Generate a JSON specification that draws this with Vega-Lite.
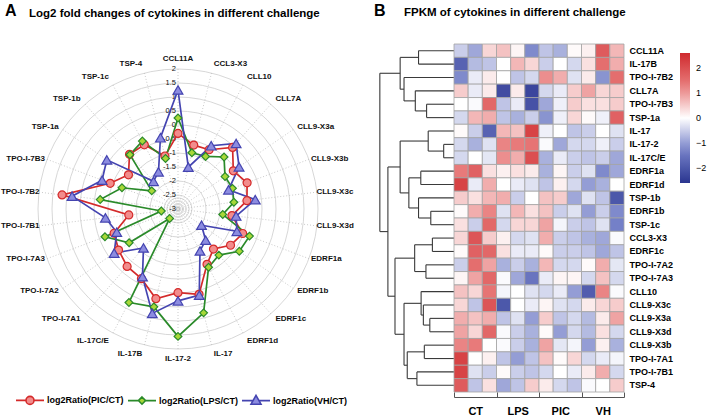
{
"$schema": "https://vega.github.io/schema/vega-lite/v6.json",
"background": "white",
"padding": {"left": 0, "top": 3, "right": 2, "bottom": 1},
"config": {"view": {"stroke": null}, "font": "Liberation Sans"},
"datasets": {
"levels": [{"lv":2},{"lv":1.5},{"lv":1},{"lv":0.5},{"lv":0},{"lv":-0.5},{"lv":-1},{"lv":-1.5},{"lv":-2},{"lv":-2.5},{"lv":-3},{"lv":-2.6},{"lv":-2.7},{"lv":-2.8},{"lv":-2.9}],
"radar": [
{"g":"CCL11A","i":0,"s":"log2Ratio(PIC/CT)","v":-0.3},{"g":"CCL11A","i":0,"s":"log2Ratio(LPS/CT)","v":0.25},{"g":"CCL11A","i":0,"s":"log2Ratio(VH/CT)","v":1.25},
{"g":"CCL3-X3","i":1,"s":"log2Ratio(PIC/CT)","v":-0.65},{"g":"CCL3-X3","i":1,"s":"log2Ratio(LPS/CT)","v":-0.93},{"g":"CCL3-X3","i":1,"s":"log2Ratio(VH/CT)","v":-1.46},
{"g":"CLL10","i":2,"s":"log2Ratio(PIC/CT)","v":-0.61},{"g":"CLL10","i":2,"s":"log2Ratio(LPS/CT)","v":-0.88},{"g":"CLL10","i":2,"s":"log2Ratio(VH/CT)","v":-0.45},
{"g":"CLL7A","i":3,"s":"log2Ratio(PIC/CT)","v":-0.06},{"g":"CLL7A","i":3,"s":"log2Ratio(LPS/CT)","v":-0.52},{"g":"CLL7A","i":3,"s":"log2Ratio(VH/CT)","v":0.13},
{"g":"CLL9-X3a","i":4,"s":"log2Ratio(PIC/CT)","v":-0.6},{"g":"CLL9-X3a","i":4,"s":"log2Ratio(LPS/CT)","v":-0.96},{"g":"CLL9-X3a","i":4,"s":"log2Ratio(VH/CT)","v":-0.35},
{"g":"CLL9-X3b","i":5,"s":"log2Ratio(PIC/CT)","v":-0.36},{"g":"CLL9-X3b","i":5,"s":"log2Ratio(LPS/CT)","v":-0.92},{"g":"CLL9-X3b","i":5,"s":"log2Ratio(VH/CT)","v":-1.07},
{"g":"CLL9-X3c","i":6,"s":"log2Ratio(PIC/CT)","v":-0.52},{"g":"CLL9-X3c","i":6,"s":"log2Ratio(LPS/CT)","v":-0.99},{"g":"CLL9-X3c","i":6,"s":"log2Ratio(VH/CT)","v":-0.22},
{"g":"CLL9-X3d","i":7,"s":"log2Ratio(PIC/CT)","v":-1.06},{"g":"CLL9-X3d","i":7,"s":"log2Ratio(LPS/CT)","v":-1.39},{"g":"CLL9-X3d","i":7,"s":"log2Ratio(VH/CT)","v":-0.91},
{"g":"EDRF1a","i":8,"s":"log2Ratio(PIC/CT)","v":-0.53},{"g":"EDRF1a","i":8,"s":"log2Ratio(LPS/CT)","v":-0.27},{"g":"EDRF1a","i":8,"s":"log2Ratio(VH/CT)","v":-0.75},
{"g":"EDRF1b","i":9,"s":"log2Ratio(PIC/CT)","v":-0.72},{"g":"EDRF1b","i":9,"s":"log2Ratio(LPS/CT)","v":-0.34},{"g":"EDRF1b","i":9,"s":"log2Ratio(VH/CT)","v":-1.98},
{"g":"EDRF1c","i":10,"s":"log2Ratio(PIC/CT)","v":-1.09},{"g":"EDRF1c","i":10,"s":"log2Ratio(LPS/CT)","v":-0.8},{"g":"EDRF1c","i":10,"s":"log2Ratio(VH/CT)","v":-1.51},
{"g":"EDRF1d","i":11,"s":"log2Ratio(PIC/CT)","v":-0.77},{"g":"EDRF1d","i":11,"s":"log2Ratio(LPS/CT)","v":-0.65},{"g":"EDRF1d","i":11,"s":"log2Ratio(VH/CT)","v":-1.31},
{"g":"IL-17","i":12,"s":"log2Ratio(PIC/CT)","v":0.14},{"g":"IL-17","i":12,"s":"log2Ratio(LPS/CT)","v":0.82},{"g":"IL-17","i":12,"s":"log2Ratio(VH/CT)","v":0.17},
{"g":"IL-17-2","i":13,"s":"log2Ratio(PIC/CT)","v":-0.01},{"g":"IL-17-2","i":13,"s":"log2Ratio(LPS/CT)","v":1.55},{"g":"IL-17-2","i":13,"s":"log2Ratio(VH/CT)","v":0.28},
{"g":"IL-17B","i":14,"s":"log2Ratio(PIC/CT)","v":0.3},{"g":"IL-17B","i":14,"s":"log2Ratio(LPS/CT)","v":0.6},{"g":"IL-17B","i":14,"s":"log2Ratio(VH/CT)","v":0.84},
{"g":"IL-17C/E","i":15,"s":"log2Ratio(PIC/CT)","v":-0.19},{"g":"IL-17C/E","i":15,"s":"log2Ratio(LPS/CT)","v":0.77},{"g":"IL-17C/E","i":15,"s":"log2Ratio(VH/CT)","v":-0.27},
{"g":"TPO-I-7A1","i":16,"s":"log2Ratio(PIC/CT)","v":-0.26},{"g":"TPO-I-7A1","i":16,"s":"log2Ratio(LPS/CT)","v":-2.55},{"g":"TPO-I-7A1","i":16,"s":"log2Ratio(VH/CT)","v":-1.14},
{"g":"TPO-I-7A2","i":17,"s":"log2Ratio(PIC/CT)","v":-0.42},{"g":"TPO-I-7A2","i":17,"s":"log2Ratio(LPS/CT)","v":-0.88},{"g":"TPO-I-7A2","i":17,"s":"log2Ratio(VH/CT)","v":-0.23},
{"g":"TPO-I-7A3","i":18,"s":"log2Ratio(PIC/CT)","v":-0.56},{"g":"TPO-I-7A3","i":18,"s":"log2Ratio(LPS/CT)","v":-0.21},{"g":"TPO-I-7A3","i":18,"s":"log2Ratio(VH/CT)","v":-0.66},
{"g":"TPO-I-7B1","i":19,"s":"log2Ratio(PIC/CT)","v":-1.23},{"g":"TPO-I-7B1","i":19,"s":"log2Ratio(LPS/CT)","v":-2.4},{"g":"TPO-I-7B1","i":19,"s":"log2Ratio(VH/CT)","v":-0.39},
{"g":"TPO-I-7B2","i":20,"s":"log2Ratio(PIC/CT)","v":1.17},{"g":"TPO-I-7B2","i":20,"s":"log2Ratio(LPS/CT)","v":-0.2},{"g":"TPO-I-7B2","i":20,"s":"log2Ratio(VH/CT)","v":0.81},
{"g":"TPO-I-7B3","i":21,"s":"log2Ratio(PIC/CT)","v":-0.41},{"g":"TPO-I-7B3","i":21,"s":"log2Ratio(LPS/CT)","v":-0.86},{"g":"TPO-I-7B3","i":21,"s":"log2Ratio(VH/CT)","v":-0.1},
{"g":"TSP-1a","i":22,"s":"log2Ratio(PIC/CT)","v":-0.85},{"g":"TSP-1a","i":22,"s":"log2Ratio(LPS/CT)","v":-1.86},{"g":"TSP-1a","i":22,"s":"log2Ratio(VH/CT)","v":0.09},
{"g":"TSP-1b","i":23,"s":"log2Ratio(PIC/CT)","v":-0.39},{"g":"TSP-1b","i":23,"s":"log2Ratio(LPS/CT)","v":-0.41},{"g":"TSP-1b","i":23,"s":"log2Ratio(VH/CT)","v":-1.68},
{"g":"TSP-1c","i":24,"s":"log2Ratio(PIC/CT)","v":-0.41},{"g":"TSP-1c","i":24,"s":"log2Ratio(LPS/CT)","v":-0.26},{"g":"TSP-1c","i":24,"s":"log2Ratio(VH/CT)","v":-1.5},
{"g":"TSP-4","i":25,"s":"log2Ratio(PIC/CT)","v":-1.05},{"g":"TSP-4","i":25,"s":"log2Ratio(LPS/CT)","v":-1.14},{"g":"TSP-4","i":25,"s":"log2Ratio(VH/CT)","v":-0.38}
],
"dendro": [
{"a":110,"b":110,"y1":0,"y2":1},{"a":0,"b":110,"y1":0,"y2":0},{"a":0,"b":110,"y1":1,"y2":1},
{"a":85,"b":85,"y1":4,"y2":5},{"a":0,"b":85,"y1":4,"y2":4},{"a":0,"b":85,"y1":5,"y2":5},
{"a":120,"b":120,"y1":3,"y2":4.5},{"a":0,"b":120,"y1":3,"y2":3},{"a":85,"b":120,"y1":4.5,"y2":4.5},
{"a":155,"b":155,"y1":2,"y2":3.75},{"a":0,"b":155,"y1":2,"y2":2},{"a":120,"b":155,"y1":3.75,"y2":3.75},
{"a":167,"b":167,"y1":0.5,"y2":2.875},{"a":110,"b":167,"y1":0.5,"y2":0.5},{"a":155,"b":167,"y1":2.875,"y2":2.875},
{"a":32,"b":32,"y1":7,"y2":8},{"a":0,"b":32,"y1":7,"y2":7},{"a":0,"b":32,"y1":8,"y2":8},
{"a":80,"b":80,"y1":6,"y2":7.5},{"a":0,"b":80,"y1":6,"y2":6},{"a":32,"b":80,"y1":7.5,"y2":7.5},
{"a":103,"b":103,"y1":9,"y2":10},{"a":0,"b":103,"y1":9,"y2":9},{"a":0,"b":103,"y1":10,"y2":10},
{"a":72,"b":72,"y1":12,"y2":13},{"a":0,"b":72,"y1":12,"y2":12},{"a":0,"b":72,"y1":13,"y2":13},
{"a":110,"b":110,"y1":11,"y2":12.5},{"a":0,"b":110,"y1":11,"y2":11},{"a":72,"b":110,"y1":12.5,"y2":12.5},
{"a":140,"b":140,"y1":9.5,"y2":11.75},{"a":103,"b":140,"y1":9.5,"y2":9.5},{"a":110,"b":140,"y1":11.75,"y2":11.75},
{"a":167,"b":167,"y1":6.75,"y2":10.625},{"a":80,"b":167,"y1":6.75,"y2":6.75},{"a":140,"b":167,"y1":10.625,"y2":10.625},
{"a":67,"b":67,"y1":14,"y2":15},{"a":0,"b":67,"y1":14,"y2":14},{"a":0,"b":67,"y1":15,"y2":15},
{"a":87,"b":87,"y1":16,"y2":17},{"a":0,"b":87,"y1":16,"y2":16},{"a":0,"b":87,"y1":17,"y2":17},
{"a":122,"b":122,"y1":14.5,"y2":16.5},{"a":67,"b":122,"y1":14.5,"y2":14.5},{"a":87,"b":122,"y1":16.5,"y2":16.5},
{"a":75,"b":75,"y1":20,"y2":21},{"a":0,"b":75,"y1":20,"y2":20},{"a":0,"b":75,"y1":21,"y2":21},
{"a":95,"b":95,"y1":19,"y2":20.5},{"a":0,"b":95,"y1":19,"y2":19},{"a":75,"b":95,"y1":20.5,"y2":20.5},
{"a":102,"b":102,"y1":18,"y2":19.75},{"a":0,"b":102,"y1":18,"y2":18},{"a":95,"b":102,"y1":19.75,"y2":19.75},
{"a":92,"b":92,"y1":22,"y2":23},{"a":0,"b":92,"y1":22,"y2":22},{"a":0,"b":92,"y1":23,"y2":23},
{"a":115,"b":115,"y1":24,"y2":25},{"a":0,"b":115,"y1":24,"y2":24},{"a":0,"b":115,"y1":25,"y2":25},
{"a":145,"b":145,"y1":22.5,"y2":24.5},{"a":92,"b":145,"y1":22.5,"y2":22.5},{"a":115,"b":145,"y1":24.5,"y2":24.5},
{"a":155,"b":155,"y1":18.875,"y2":23.5},{"a":102,"b":155,"y1":18.875,"y2":18.875},{"a":145,"b":155,"y1":23.5,"y2":23.5},
{"a":183,"b":183,"y1":15.5,"y2":21.1875},{"a":122,"b":183,"y1":15.5,"y2":15.5},{"a":155,"b":183,"y1":21.1875,"y2":21.1875},
{"a":205,"b":205,"y1":8.6875,"y2":18.34375},{"a":167,"b":205,"y1":8.6875,"y2":8.6875},{"a":183,"b":205,"y1":18.34375,"y2":18.34375},
{"a":230,"b":230,"y1":1.6875,"y2":13.515625},{"a":167,"b":230,"y1":1.6875,"y2":1.6875},{"a":205,"b":230,"y1":13.515625,"y2":13.515625}
],
"heat": [
{"g":"CCL11A","t":"CT","r":1,"v":-0.5},{"g":"CCL11A","t":"CT","r":2,"v":-0.9},{"g":"CCL11A","t":"CT","r":3,"v":0.4},{"g":"CCL11A","t":"LPS","r":1,"v":0.6},{"g":"CCL11A","t":"LPS","r":2,"v":0.1},{"g":"CCL11A","t":"LPS","r":3,"v":-1.2},{"g":"CCL11A","t":"PIC","r":1,"v":-0.6},{"g":"CCL11A","t":"PIC","r":2,"v":-0.8},{"g":"CCL11A","t":"PIC","r":3,"v":0.05},{"g":"CCL11A","t":"VH","r":1,"v":0.15},{"g":"CCL11A","t":"VH","r":2,"v":1.8},{"g":"CCL11A","t":"VH","r":3,"v":0.7},
{"g":"IL-17B","t":"CT","r":1,"v":-1.8},{"g":"IL-17B","t":"CT","r":2,"v":-0.7},{"g":"IL-17B","t":"CT","r":3,"v":-0.6},{"g":"IL-17B","t":"LPS","r":1,"v":0},{"g":"IL-17B","t":"LPS","r":2,"v":0.7},{"g":"IL-17B","t":"LPS","r":3,"v":0.4},{"g":"IL-17B","t":"PIC","r":1,"v":-0.5},{"g":"IL-17B","t":"PIC","r":2,"v":0},{"g":"IL-17B","t":"PIC","r":3,"v":-0.4},{"g":"IL-17B","t":"VH","r":1,"v":0.3},{"g":"IL-17B","t":"VH","r":2,"v":1.5},{"g":"IL-17B","t":"VH","r":3,"v":0.8},
{"g":"TPO-I-7B2","t":"CT","r":1,"v":-1.2},{"g":"TPO-I-7B2","t":"CT","r":2,"v":-0.2},{"g":"TPO-I-7B2","t":"CT","r":3,"v":0.2},{"g":"TPO-I-7B2","t":"LPS","r":1,"v":0},{"g":"TPO-I-7B2","t":"LPS","r":2,"v":-0.6},{"g":"TPO-I-7B2","t":"LPS","r":3,"v":-0.4},{"g":"TPO-I-7B2","t":"PIC","r":1,"v":1.1},{"g":"TPO-I-7B2","t":"PIC","r":2,"v":0.8},{"g":"TPO-I-7B2","t":"PIC","r":3,"v":-0.3},{"g":"TPO-I-7B2","t":"VH","r":1,"v":0.2},{"g":"TPO-I-7B2","t":"VH","r":2,"v":-1.1},{"g":"TPO-I-7B2","t":"VH","r":3,"v":1.5},
{"g":"CLL7A","t":"CT","r":1,"v":0.5},{"g":"CLL7A","t":"CT","r":2,"v":-0.2},{"g":"CLL7A","t":"CT","r":3,"v":0.2},{"g":"CLL7A","t":"LPS","r":1,"v":-2.2},{"g":"CLL7A","t":"LPS","r":2,"v":0.2},{"g":"CLL7A","t":"LPS","r":3,"v":-2.3},{"g":"CLL7A","t":"PIC","r":1,"v":-0.4},{"g":"CLL7A","t":"PIC","r":2,"v":-0.2},{"g":"CLL7A","t":"PIC","r":3,"v":0.5},{"g":"CLL7A","t":"VH","r":1,"v":0.9},{"g":"CLL7A","t":"VH","r":2,"v":0.4},{"g":"CLL7A","t":"VH","r":3,"v":0.5},
{"g":"TPO-I-7B3","t":"CT","r":1,"v":0},{"g":"TPO-I-7B3","t":"CT","r":2,"v":-0.05},{"g":"TPO-I-7B3","t":"CT","r":3,"v":1.6},{"g":"TPO-I-7B3","t":"LPS","r":1,"v":-0.6},{"g":"TPO-I-7B3","t":"LPS","r":2,"v":-0.2},{"g":"TPO-I-7B3","t":"LPS","r":3,"v":-2.1},{"g":"TPO-I-7B3","t":"PIC","r":1,"v":-0.9},{"g":"TPO-I-7B3","t":"PIC","r":2,"v":-0.15},{"g":"TPO-I-7B3","t":"PIC","r":3,"v":0.5},{"g":"TPO-I-7B3","t":"VH","r":1,"v":0.3},{"g":"TPO-I-7B3","t":"VH","r":2,"v":0.3},{"g":"TPO-I-7B3","t":"VH","r":3,"v":0.5},
{"g":"TSP-1a","t":"CT","r":1,"v":-0.4},{"g":"TSP-1a","t":"CT","r":2,"v":0.7},{"g":"TSP-1a","t":"CT","r":3,"v":0.8},{"g":"TSP-1a","t":"LPS","r":1,"v":-0.6},{"g":"TSP-1a","t":"LPS","r":2,"v":-0.8},{"g":"TSP-1a","t":"LPS","r":3,"v":-0.5},{"g":"TSP-1a","t":"PIC","r":1,"v":-1.1},{"g":"TSP-1a","t":"PIC","r":2,"v":-0.15},{"g":"TSP-1a","t":"PIC","r":3,"v":0.4},{"g":"TSP-1a","t":"VH","r":1,"v":0.05},{"g":"TSP-1a","t":"VH","r":2,"v":-0.15},{"g":"TSP-1a","t":"VH","r":3,"v":1.7},
{"g":"IL-17","t":"CT","r":1,"v":0.05},{"g":"IL-17","t":"CT","r":2,"v":-0.5},{"g":"IL-17","t":"CT","r":3,"v":-1.8},{"g":"IL-17","t":"LPS","r":1,"v":0.7},{"g":"IL-17","t":"LPS","r":2,"v":0.6},{"g":"IL-17","t":"LPS","r":3,"v":2.2},{"g":"IL-17","t":"PIC","r":1,"v":-0.15},{"g":"IL-17","t":"PIC","r":2,"v":0},{"g":"IL-17","t":"PIC","r":3,"v":-0.6},{"g":"IL-17","t":"VH","r":1,"v":-0.5},{"g":"IL-17","t":"VH","r":2,"v":0},{"g":"IL-17","t":"VH","r":3,"v":-0.3},
{"g":"IL-17-2","t":"CT","r":1,"v":-0.4},{"g":"IL-17-2","t":"CT","r":2,"v":-0.8},{"g":"IL-17-2","t":"CT","r":3,"v":-0.3},{"g":"IL-17-2","t":"LPS","r":1,"v":1.2},{"g":"IL-17-2","t":"LPS","r":2,"v":1.3},{"g":"IL-17-2","t":"LPS","r":3,"v":1.4},{"g":"IL-17-2","t":"PIC","r":1,"v":-0.05},{"g":"IL-17-2","t":"PIC","r":2,"v":-0.9},{"g":"IL-17-2","t":"PIC","r":3,"v":-0.4},{"g":"IL-17-2","t":"VH","r":1,"v":-0.4},{"g":"IL-17-2","t":"VH","r":2,"v":-0.15},{"g":"IL-17-2","t":"VH","r":3,"v":-0.5},
{"g":"IL-17C/E","t":"CT","r":1,"v":-0.4},{"g":"IL-17C/E","t":"CT","r":2,"v":0},{"g":"IL-17C/E","t":"CT","r":3,"v":-0.25},{"g":"IL-17C/E","t":"LPS","r":1,"v":1.1},{"g":"IL-17C/E","t":"LPS","r":2,"v":0.8},{"g":"IL-17C/E","t":"LPS","r":3,"v":2.0},{"g":"IL-17C/E","t":"PIC","r":1,"v":-0.8},{"g":"IL-17C/E","t":"PIC","r":2,"v":-0.2},{"g":"IL-17C/E","t":"PIC","r":3,"v":-0.5},{"g":"IL-17C/E","t":"VH","r":1,"v":-0.6},{"g":"IL-17C/E","t":"VH","r":2,"v":-0.5},{"g":"IL-17C/E","t":"VH","r":3,"v":-0.9},
{"g":"EDRF1a","t":"CT","r":1,"v":1.3},{"g":"EDRF1a","t":"CT","r":2,"v":1.7},{"g":"EDRF1a","t":"CT","r":3,"v":0.3},{"g":"EDRF1a","t":"LPS","r":1,"v":0.15},{"g":"EDRF1a","t":"LPS","r":2,"v":0.3},{"g":"EDRF1a","t":"LPS","r":3,"v":0.2},{"g":"EDRF1a","t":"PIC","r":1,"v":-0.8},{"g":"EDRF1a","t":"PIC","r":2,"v":0.1},{"g":"EDRF1a","t":"PIC","r":3,"v":-0.5},{"g":"EDRF1a","t":"VH","r":1,"v":-0.3},{"g":"EDRF1a","t":"VH","r":2,"v":-1.2},{"g":"EDRF1a","t":"VH","r":3,"v":-0.9},
{"g":"EDRF1d","t":"CT","r":1,"v":2.2},{"g":"EDRF1d","t":"CT","r":2,"v":-0.2},{"g":"EDRF1d","t":"CT","r":3,"v":0.8},{"g":"EDRF1d","t":"LPS","r":1,"v":0},{"g":"EDRF1d","t":"LPS","r":2,"v":-0.2},{"g":"EDRF1d","t":"LPS","r":3,"v":-0.3},{"g":"EDRF1d","t":"PIC","r":1,"v":-0.6},{"g":"EDRF1d","t":"PIC","r":2,"v":0.15},{"g":"EDRF1d","t":"PIC","r":3,"v":-0.4},{"g":"EDRF1d","t":"VH","r":1,"v":-1.0},{"g":"EDRF1d","t":"VH","r":2,"v":-0.8},{"g":"EDRF1d","t":"VH","r":3,"v":0},
{"g":"TSP-1b","t":"CT","r":1,"v":0.5},{"g":"TSP-1b","t":"CT","r":2,"v":0.3},{"g":"TSP-1b","t":"CT","r":3,"v":0.7},{"g":"TSP-1b","t":"LPS","r":1,"v":0.8},{"g":"TSP-1b","t":"LPS","r":2,"v":-0.5},{"g":"TSP-1b","t":"LPS","r":3,"v":0},{"g":"TSP-1b","t":"PIC","r":1,"v":0.6},{"g":"TSP-1b","t":"PIC","r":2,"v":0.5},{"g":"TSP-1b","t":"PIC","r":3,"v":-0.9},{"g":"TSP-1b","t":"VH","r":1,"v":-0.3},{"g":"TSP-1b","t":"VH","r":2,"v":-0.6},{"g":"TSP-1b","t":"VH","r":3,"v":-2.0},
{"g":"EDRF1b","t":"CT","r":1,"v":0.05},{"g":"EDRF1b","t":"CT","r":2,"v":0.8},{"g":"EDRF1b","t":"CT","r":3,"v":1.2},{"g":"EDRF1b","t":"LPS","r":1,"v":-0.3},{"g":"EDRF1b","t":"LPS","r":2,"v":0.7},{"g":"EDRF1b","t":"LPS","r":3,"v":0.3},{"g":"EDRF1b","t":"PIC","r":1,"v":0.6},{"g":"EDRF1b","t":"PIC","r":2,"v":-0.5},{"g":"EDRF1b","t":"PIC","r":3,"v":-0.3},{"g":"EDRF1b","t":"VH","r":1,"v":-1.0},{"g":"EDRF1b","t":"VH","r":2,"v":-0.5},{"g":"EDRF1b","t":"VH","r":3,"v":-1.2},
{"g":"TSP-1c","t":"CT","r":1,"v":0.3},{"g":"TSP-1c","t":"CT","r":2,"v":-0.5},{"g":"TSP-1c","t":"CT","r":3,"v":1.6},{"g":"TSP-1c","t":"LPS","r":1,"v":-0.4},{"g":"TSP-1c","t":"LPS","r":2,"v":0.4},{"g":"TSP-1c","t":"LPS","r":3,"v":0.4},{"g":"TSP-1c","t":"PIC","r":1,"v":0.9},{"g":"TSP-1c","t":"PIC","r":2,"v":-0.1},{"g":"TSP-1c","t":"PIC","r":3,"v":-0.5},{"g":"TSP-1c","t":"VH","r":1,"v":-0.6},{"g":"TSP-1c","t":"VH","r":2,"v":-0.3},{"g":"TSP-1c","t":"VH","r":3,"v":-1.3},
{"g":"CCL3-X3","t":"CT","r":1,"v":0.4},{"g":"CCL3-X3","t":"CT","r":2,"v":1.9},{"g":"CCL3-X3","t":"CT","r":3,"v":0.5},{"g":"CCL3-X3","t":"LPS","r":1,"v":0.15},{"g":"CCL3-X3","t":"LPS","r":2,"v":-0.4},{"g":"CCL3-X3","t":"LPS","r":3,"v":-0.3},{"g":"CCL3-X3","t":"PIC","r":1,"v":0.8},{"g":"CCL3-X3","t":"PIC","r":2,"v":-0.5},{"g":"CCL3-X3","t":"PIC","r":3,"v":-0.6},{"g":"CCL3-X3","t":"VH","r":1,"v":-0.8},{"g":"CCL3-X3","t":"VH","r":2,"v":-0.9},{"g":"CCL3-X3","t":"VH","r":3,"v":-0.05},
{"g":"EDRF1c","t":"CT","r":1,"v":0.05},{"g":"EDRF1c","t":"CT","r":2,"v":1.7},{"g":"EDRF1c","t":"CT","r":3,"v":1.6},{"g":"EDRF1c","t":"LPS","r":1,"v":0.3},{"g":"EDRF1c","t":"LPS","r":2,"v":-0.2},{"g":"EDRF1c","t":"LPS","r":3,"v":-0.2},{"g":"EDRF1c","t":"PIC","r":1,"v":0.05},{"g":"EDRF1c","t":"PIC","r":2,"v":-0.5},{"g":"EDRF1c","t":"PIC","r":3,"v":-0.5},{"g":"EDRF1c","t":"VH","r":1,"v":-0.6},{"g":"EDRF1c","t":"VH","r":2,"v":-0.9},{"g":"EDRF1c","t":"VH","r":3,"v":-0.6},
{"g":"TPO-I-7A2","t":"CT","r":1,"v":-0.5},{"g":"TPO-I-7A2","t":"CT","r":2,"v":1.5},{"g":"TPO-I-7A2","t":"CT","r":3,"v":0.9},{"g":"TPO-I-7A2","t":"LPS","r":1,"v":-0.8},{"g":"TPO-I-7A2","t":"LPS","r":2,"v":-0.5},{"g":"TPO-I-7A2","t":"LPS","r":3,"v":-0.8},{"g":"TPO-I-7A2","t":"PIC","r":1,"v":0.7},{"g":"TPO-I-7A2","t":"PIC","r":2,"v":-0.4},{"g":"TPO-I-7A2","t":"PIC","r":3,"v":-0.4},{"g":"TPO-I-7A2","t":"VH","r":1,"v":0.05},{"g":"TPO-I-7A2","t":"VH","r":2,"v":0.8},{"g":"TPO-I-7A2","t":"VH","r":3,"v":-0.25},
{"g":"TPO-I-7A3","t":"CT","r":1,"v":0.1},{"g":"TPO-I-7A3","t":"CT","r":2,"v":0.9},{"g":"TPO-I-7A3","t":"CT","r":3,"v":1.6},{"g":"TPO-I-7A3","t":"LPS","r":1,"v":-0.05},{"g":"TPO-I-7A3","t":"LPS","r":2,"v":-0.9},{"g":"TPO-I-7A3","t":"LPS","r":3,"v":-1.5},{"g":"TPO-I-7A3","t":"PIC","r":1,"v":-0.2},{"g":"TPO-I-7A3","t":"PIC","r":2,"v":0.1},{"g":"TPO-I-7A3","t":"PIC","r":3,"v":0.1},{"g":"TPO-I-7A3","t":"VH","r":1,"v":-0.4},{"g":"TPO-I-7A3","t":"VH","r":2,"v":0.6},{"g":"TPO-I-7A3","t":"VH","r":3,"v":-0.4},
{"g":"CLL10","t":"CT","r":1,"v":0.6},{"g":"CLL10","t":"CT","r":2,"v":0.4},{"g":"CLL10","t":"CT","r":3,"v":1.4},{"g":"CLL10","t":"LPS","r":1,"v":-0.1},{"g":"CLL10","t":"LPS","r":2,"v":0},{"g":"CLL10","t":"LPS","r":3,"v":-0.3},{"g":"CLL10","t":"PIC","r":1,"v":-0.4},{"g":"CLL10","t":"PIC","r":2,"v":-0.2},{"g":"CLL10","t":"PIC","r":3,"v":-1.0},{"g":"CLL10","t":"VH","r":1,"v":-1.9},{"g":"CLL10","t":"VH","r":2,"v":1.2},{"g":"CLL10","t":"VH","r":3,"v":-0.05},
{"g":"CLL9-X3c","t":"CT","r":1,"v":0.4},{"g":"CLL9-X3c","t":"CT","r":2,"v":-0.6},{"g":"CLL9-X3c","t":"CT","r":3,"v":1.9},{"g":"CLL9-X3c","t":"LPS","r":1,"v":-2.0},{"g":"CLL9-X3c","t":"LPS","r":2,"v":0},{"g":"CLL9-X3c","t":"LPS","r":3,"v":-0.2},{"g":"CLL9-X3c","t":"PIC","r":1,"v":0.1},{"g":"CLL9-X3c","t":"PIC","r":2,"v":-0.3},{"g":"CLL9-X3c","t":"PIC","r":3,"v":-0.4},{"g":"CLL9-X3c","t":"VH","r":1,"v":0.2},{"g":"CLL9-X3c","t":"VH","r":2,"v":0.4},{"g":"CLL9-X3c","t":"VH","r":3,"v":0.5},
{"g":"CLL9-X3a","t":"CT","r":1,"v":0.8},{"g":"CLL9-X3a","t":"CT","r":2,"v":0.6},{"g":"CLL9-X3a","t":"CT","r":3,"v":0.8},{"g":"CLL9-X3a","t":"LPS","r":1,"v":-0.6},{"g":"CLL9-X3a","t":"LPS","r":2,"v":-0.3},{"g":"CLL9-X3a","t":"LPS","r":3,"v":-1.0},{"g":"CLL9-X3a","t":"PIC","r":1,"v":0.5},{"g":"CLL9-X3a","t":"PIC","r":2,"v":-0.6},{"g":"CLL9-X3a","t":"PIC","r":3,"v":-0.4},{"g":"CLL9-X3a","t":"VH","r":1,"v":-0.7},{"g":"CLL9-X3a","t":"VH","r":2,"v":0.2},{"g":"CLL9-X3a","t":"VH","r":3,"v":0.9},
{"g":"CLL9-X3d","t":"CT","r":1,"v":0.9},{"g":"CLL9-X3d","t":"CT","r":2,"v":0.4},{"g":"CLL9-X3d","t":"CT","r":3,"v":1.6},{"g":"CLL9-X3d","t":"LPS","r":1,"v":-0.05},{"g":"CLL9-X3d","t":"LPS","r":2,"v":-0.5},{"g":"CLL9-X3d","t":"LPS","r":3,"v":-0.8},{"g":"CLL9-X3d","t":"PIC","r":1,"v":0.05},{"g":"CLL9-X3d","t":"PIC","r":2,"v":-1.0},{"g":"CLL9-X3d","t":"PIC","r":3,"v":-0.4},{"g":"CLL9-X3d","t":"VH","r":1,"v":-0.7},{"g":"CLL9-X3d","t":"VH","r":2,"v":0.3},{"g":"CLL9-X3d","t":"VH","r":3,"v":-0.4},
{"g":"CLL9-X3b","t":"CT","r":1,"v":1.2},{"g":"CLL9-X3b","t":"CT","r":2,"v":1.3},{"g":"CLL9-X3b","t":"CT","r":3,"v":0},{"g":"CLL9-X3b","t":"LPS","r":1,"v":-0.05},{"g":"CLL9-X3b","t":"LPS","r":2,"v":-0.5},{"g":"CLL9-X3b","t":"LPS","r":3,"v":-0.8},{"g":"CLL9-X3b","t":"PIC","r":1,"v":0.9},{"g":"CLL9-X3b","t":"PIC","r":2,"v":-0.25},{"g":"CLL9-X3b","t":"PIC","r":3,"v":-0.1},{"g":"CLL9-X3b","t":"VH","r":1,"v":-1.0},{"g":"CLL9-X3b","t":"VH","r":2,"v":0.15},{"g":"CLL9-X3b","t":"VH","r":3,"v":-0.8},
{"g":"TPO-I-7A1","t":"CT","r":1,"v":2.2},{"g":"TPO-I-7A1","t":"CT","r":2,"v":0},{"g":"TPO-I-7A1","t":"CT","r":3,"v":0.15},{"g":"TPO-I-7A1","t":"LPS","r":1,"v":-0.6},{"g":"TPO-I-7A1","t":"LPS","r":2,"v":-1.0},{"g":"TPO-I-7A1","t":"LPS","r":3,"v":-0.6},{"g":"TPO-I-7A1","t":"PIC","r":1,"v":0.6},{"g":"TPO-I-7A1","t":"PIC","r":2,"v":0.05},{"g":"TPO-I-7A1","t":"PIC","r":3,"v":0.4},{"g":"TPO-I-7A1","t":"VH","r":1,"v":-0.4},{"g":"TPO-I-7A1","t":"VH","r":2,"v":-0.2},{"g":"TPO-I-7A1","t":"VH","r":3,"v":-0.1},
{"g":"TPO-I-7B1","t":"CT","r":1,"v":2.2},{"g":"TPO-I-7B1","t":"CT","r":2,"v":-0.3},{"g":"TPO-I-7B1","t":"CT","r":3,"v":-0.5},{"g":"TPO-I-7B1","t":"LPS","r":1,"v":0.05},{"g":"TPO-I-7B1","t":"LPS","r":2,"v":-0.5},{"g":"TPO-I-7B1","t":"LPS","r":3,"v":-0.6},{"g":"TPO-I-7B1","t":"PIC","r":1,"v":-0.4},{"g":"TPO-I-7B1","t":"PIC","r":2,"v":0},{"g":"TPO-I-7B1","t":"PIC","r":3,"v":-0.2},{"g":"TPO-I-7B1","t":"VH","r":1,"v":0.2},{"g":"TPO-I-7B1","t":"VH","r":2,"v":0.8},{"g":"TPO-I-7B1","t":"VH","r":3,"v":-0.4},
{"g":"TSP-4","t":"CT","r":1,"v":1.8},{"g":"TSP-4","t":"CT","r":2,"v":-0.6},{"g":"TSP-4","t":"CT","r":3,"v":0.3},{"g":"TSP-4","t":"LPS","r":1,"v":-0.9},{"g":"TSP-4","t":"LPS","r":2,"v":-0.6},{"g":"TSP-4","t":"LPS","r":3,"v":0.5},{"g":"TSP-4","t":"PIC","r":1,"v":0.2},{"g":"TSP-4","t":"PIC","r":2,"v":-0.4},{"g":"TSP-4","t":"PIC","r":3,"v":-0.6},{"g":"TSP-4","t":"VH","r":1,"v":-0.05},{"g":"TSP-4","t":"VH","r":2,"v":0},{"g":"TSP-4","t":"VH","r":3,"v":0.5}
]
},
"hconcat": [
{
"width": 1, "height": 330,
"data": {"values": []},
"title": {"text": "A", "anchor": "start", "frame": "group", "dx": 0, "offset": 12, "baseline": "alphabetic", "font": "Liberation Sans", "fontSize": 16, "fontWeight": "bold", "color": "#000"},
"mark": {"type": "rule"},
"encoding": {}
},
{
"width": 369, "height": 330,
"title": {"text": "Log2 fold changes  of cytokines  in different  challenge", "anchor": "start", "frame": "group", "dx": 23, "offset": 16, "baseline": "alphabetic", "font": "Liberation Sans", "fontSize": 11.5, "fontWeight": "bold", "color": "#000"},
"layer": [
{"data": {"name": "levels"},
 "transform": [{"calculate": "(datum.lv+3)*28", "as": "rr"}, {"calculate": "4*datum.rr*datum.rr", "as": "sz"}, {"calculate": "0", "as": "zero"}],
 "mark": {"type": "point", "shape": "circle", "filled": false, "stroke": "#cdcdcd", "strokeWidth": 0.8, "opacity": 1},
 "encoding": {
  "x": {"field": "zero", "type": "quantitative", "scale": {"domain": [-172, 197], "nice": false, "zero": false}, "axis": null},
  "y": {"field": "zero", "type": "quantitative", "scale": {"domain": [-165, 165], "nice": false, "zero": false}, "axis": null},
  "size": {"field": "sz", "type": "quantitative", "scale": null, "legend": null}
 }},
{"data": {"name": "radar"},
 "transform": [{"filter": "datum.s == 'log2Ratio(PIC/CT)'"}, {"calculate": "datum.i*2*PI/26", "as": "th"}, {"calculate": "140*sin(datum.th)", "as": "sx"}, {"calculate": "140*cos(datum.th)", "as": "sy"}, {"calculate": "0", "as": "zero"}],
 "mark": {"type": "rule", "stroke": "#bdbdbd", "strokeWidth": 0.8, "strokeDash": [1, 2]},
 "encoding": {"x": {"field": "sx", "type": "quantitative", "axis": null}, "y": {"field": "sy", "type": "quantitative", "axis": null}, "x2": {"field": "zero"}, "y2": {"field": "zero"}}},
{"data": {"name": "levels"},
 "transform": [{"filter": "datum.lv*2 == floor(datum.lv*2)"}, {"calculate": "(datum.lv+3)*28", "as": "rr"}, {"calculate": "0", "as": "zero"}],
 "mark": {"type": "text", "align": "right", "baseline": "middle", "dx": -2, "font": "Liberation Sans", "fontSize": 7.5, "color": "#111"},
 "encoding": {"x": {"field": "zero", "type": "quantitative", "axis": null}, "y": {"field": "rr", "type": "quantitative", "axis": null}, "text": {"field": "lv", "type": "nominal"}}},
{"data": {"name": "radar"},
 "transform": [{"filter": "datum.s == 'log2Ratio(PIC/CT)' && datum.i > 0 && datum.i < 13"}, {"calculate": "datum.i*2*PI/26", "as": "th"}, {"calculate": "138+12*abs(cos(datum.th))", "as": "lr"}, {"calculate": "datum.lr*sin(datum.th)", "as": "lx"}, {"calculate": "datum.lr*cos(datum.th)", "as": "ly"}],
 "mark": {"type": "text", "align": "left", "baseline": "middle", "font": "Liberation Sans", "fontSize": 8, "fontWeight": "bold", "color": "#111"},
 "encoding": {"x": {"field": "lx", "type": "quantitative", "axis": null}, "y": {"field": "ly", "type": "quantitative", "axis": null}, "text": {"field": "g", "type": "nominal"}}},
{"data": {"name": "radar"},
 "transform": [{"filter": "datum.s == 'log2Ratio(PIC/CT)' && datum.i > 13"}, {"calculate": "datum.i*2*PI/26", "as": "th"}, {"calculate": "138+12*abs(cos(datum.th))", "as": "lr"}, {"calculate": "datum.lr*sin(datum.th)", "as": "lx"}, {"calculate": "datum.lr*cos(datum.th)", "as": "ly"}],
 "mark": {"type": "text", "align": "right", "baseline": "middle", "font": "Liberation Sans", "fontSize": 8, "fontWeight": "bold", "color": "#111"},
 "encoding": {"x": {"field": "lx", "type": "quantitative", "axis": null}, "y": {"field": "ly", "type": "quantitative", "axis": null}, "text": {"field": "g", "type": "nominal"}}},
{"data": {"name": "radar"},
 "transform": [{"filter": "datum.s == 'log2Ratio(PIC/CT)' && (datum.i == 0 || datum.i == 13)"}, {"calculate": "datum.i*2*PI/26", "as": "th"}, {"calculate": "150*sin(datum.th)", "as": "lx"}, {"calculate": "150*cos(datum.th)", "as": "ly"}],
 "mark": {"type": "text", "align": "center", "baseline": "middle", "font": "Liberation Sans", "fontSize": 8, "fontWeight": "bold", "color": "#111"},
 "encoding": {"x": {"field": "lx", "type": "quantitative", "axis": null}, "y": {"field": "ly", "type": "quantitative", "axis": null}, "text": {"field": "g", "type": "nominal"}}},
{"data": {"name": "radar"},
 "transform": [{"calculate": "datum.i*2*PI/26", "as": "th"}, {"calculate": "(datum.v+3)*28", "as": "rr"}, {"calculate": "datum.rr*sin(datum.th)", "as": "px"}, {"calculate": "datum.rr*cos(datum.th)", "as": "py"}],
 "mark": {"type": "line", "interpolate": "linear-closed", "strokeWidth": 1.7},
 "encoding": {
  "x": {"field": "px", "type": "quantitative", "axis": null},
  "y": {"field": "py", "type": "quantitative", "axis": null},
  "order": {"field": "i", "type": "quantitative"},
  "stroke": {"field": "s", "type": "nominal", "scale": {"domain": ["log2Ratio(PIC/CT)", "log2Ratio(LPS/CT)", "log2Ratio(VH/CT)"], "range": ["#d42a2a", "#2a8a2a", "#4444b0"]},
   "legend": {"orient": "none", "legendX": 20, "legendY": 351, "direction": "horizontal", "title": null, "padding": 0, "symbolSize": 64, "symbolStrokeWidth": 1.6, "labelOffset": 12, "columnPadding": 0, "labelFont": "Liberation Sans", "labelFontSize": 9, "labelFontWeight": "bold", "labelColor": "#000",
    "encode": {"symbols": {"update": {
     "shape": {"signal": "datum.value === 'log2Ratio(PIC/CT)' ? 'M-3.5,0H-1M1,0H3.5M1,0A1,1 0 1,0 -1,0A1,1 0 1,0 1,0Z' : datum.value === 'log2Ratio(LPS/CT)' ? 'M-3.5,0H-0.9M0.9,0H3.5M0,-0.9L0.9,0L0,0.9L-0.9,0Z' : 'M-3.5,0H-0.74M0.74,0H3.5M0,-1.3L1.25,0.9L-1.25,0.9Z'"},
     "fill": {"signal": "datum.value === 'log2Ratio(PIC/CT)' ? '#f28c8c' : datum.value === 'log2Ratio(LPS/CT)' ? '#a8d838' : '#8c8ce0'"},
     "fillOpacity": {"value": 1},
     "opacity": {"value": 1},
     "strokeWidth": {"value": 1.6}}}}}}
 }},
{"data": {"name": "radar"},
 "transform": [{"filter": "datum.s == 'log2Ratio(PIC/CT)'"}, {"calculate": "datum.i*2*PI/26", "as": "th"}, {"calculate": "(datum.v+3)*28", "as": "rr"}, {"calculate": "datum.rr*sin(datum.th)", "as": "px"}, {"calculate": "datum.rr*cos(datum.th)", "as": "py"}],
 "mark": {"type": "point", "shape": "circle", "filled": true, "fill": "#f28c8c", "stroke": "#d42a2a", "opacity": 1, "strokeWidth": 1.2, "size": 64},
 "encoding": {"x": {"field": "px", "type": "quantitative", "axis": null}, "y": {"field": "py", "type": "quantitative", "axis": null}}},
{"data": {"name": "radar"},
 "transform": [{"filter": "datum.s == 'log2Ratio(LPS/CT)'"}, {"calculate": "datum.i*2*PI/26", "as": "th"}, {"calculate": "(datum.v+3)*28", "as": "rr"}, {"calculate": "datum.rr*sin(datum.th)", "as": "px"}, {"calculate": "datum.rr*cos(datum.th)", "as": "py"}],
 "mark": {"type": "point", "shape": "diamond", "filled": true, "fill": "#a8d838", "stroke": "#2a8a2a", "opacity": 1, "strokeWidth": 1.2, "size": 60},
 "encoding": {"x": {"field": "px", "type": "quantitative", "axis": null}, "y": {"field": "py", "type": "quantitative", "axis": null}}},
{"data": {"name": "radar"},
 "transform": [{"filter": "datum.s == 'log2Ratio(VH/CT)'"}, {"calculate": "datum.i*2*PI/26", "as": "th"}, {"calculate": "(datum.v+3)*28", "as": "rr"}, {"calculate": "datum.rr*sin(datum.th)", "as": "px"}, {"calculate": "datum.rr*cos(datum.th)", "as": "py"}],
 "mark": {"type": "point", "shape": "triangle-up", "filled": true, "fill": "#8c8ce0", "stroke": "#4444b0", "opacity": 1, "strokeWidth": 1.2, "size": 95},
 "encoding": {"x": {"field": "px", "type": "quantitative", "axis": null}, "y": {"field": "py", "type": "quantitative", "axis": null}}}
]
},
{
"width": 79, "height": 348,
"data": {"name": "dendro"},
"title": {"text": "B", "anchor": "start", "frame": "group", "dx": -1, "offset": 12, "baseline": "alphabetic", "font": "Liberation Sans", "fontSize": 16, "fontWeight": "bold", "color": "#000"},
"mark": {"type": "rule", "color": "#3a3a3a", "strokeWidth": 1.1},
"encoding": {
 "x": {"field": "a", "type": "quantitative", "scale": {"domain": [0, 245], "reverse": true, "nice": false, "zero": false}, "axis": null},
 "x2": {"field": "b"},
 "y": {"field": "y1", "type": "quantitative", "scale": {"domain": [-0.5, 25.5], "reverse": true, "nice": false, "zero": false}, "axis": null},
 "y2": {"field": "y2"}
}
},
{
"width": 170, "height": 348,
"data": {"name": "heat"},
"title": {"text": "FPKM of cytokines  in different  challenge", "anchor": "start", "frame": "group", "dx": -50, "offset": 16, "baseline": "alphabetic", "font": "Liberation Sans", "fontSize": 11.5, "fontWeight": "bold", "color": "#000"},
"mark": {"type": "rect", "stroke": "#a3a3a3", "strokeWidth": 0.8},
"encoding": {
 "x": {"field": "t", "type": "nominal", "sort": ["CT", "LPS", "PIC", "VH"], "scale": {"paddingInner": 0, "paddingOuter": 0},
  "axis": {"title": null, "orient": "bottom", "labelAngle": 0, "labelFont": "Liberation Sans", "labelFontWeight": "bold", "labelFontSize": 11, "labelColor": "#000", "domain": true, "domainColor": "#555", "domainWidth": 1, "ticks": true, "tickBand": "extent", "tickSize": -5, "tickColor": "#555", "tickWidth": 1, "offset": 5, "labelPadding": 13}},
 "xOffset": {"field": "r", "type": "ordinal", "scale": {"paddingInner": 0, "paddingOuter": 0}},
 "y": {"field": "g", "type": "nominal", "sort": ["CCL11A", "IL-17B", "TPO-I-7B2", "CLL7A", "TPO-I-7B3", "TSP-1a", "IL-17", "IL-17-2", "IL-17C/E", "EDRF1a", "EDRF1d", "TSP-1b", "EDRF1b", "TSP-1c", "CCL3-X3", "EDRF1c", "TPO-I-7A2", "TPO-I-7A3", "CLL10", "CLL9-X3c", "CLL9-X3a", "CLL9-X3d", "CLL9-X3b", "TPO-I-7A1", "TPO-I-7B1", "TSP-4"], "scale": {"paddingInner": 0, "paddingOuter": 0},
  "axis": {"orient": "right", "title": null, "ticks": false, "domain": false, "labelFont": "Liberation Sans", "labelFontWeight": "bold", "labelFontSize": 9, "labelColor": "#000", "labelPadding": 5}},
 "color": {"field": "v", "type": "quantitative", "scale": {"domain": [-2.6, -1.3, 0, 1.3, 2.6], "range": ["#2a3590", "#7480c8", "#ffffff", "#e87a7a", "#cf2a2e"], "interpolate": "rgb"},
  "legend": {"orient": "right", "offset": -2, "padding": 9, "title": null, "direction": "vertical", "gradientLength": 130, "gradientThickness": 10, "gradientStrokeWidth": 0, "values": [-2, -1, 0, 1, 2], "labelFont": "Liberation Sans", "labelFontSize": 9, "labelColor": "#000", "labelOffset": 6}}
}
}
],
"spacing": 0,
"bounds": "flush"
}
